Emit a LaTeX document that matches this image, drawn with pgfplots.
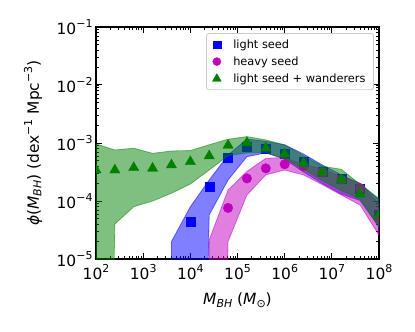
\documentclass[border=0pt]{standalone}
\usepackage{pgfplots}
\pgfplotsset{compat=1.18}
\usepackage{fontspec}
\setmainfont{DejaVu Sans}
\definecolor{mblue}{rgb}{0,0,1}
\definecolor{mmag}{rgb}{0.75,0,0.75}
\definecolor{mgreen}{rgb}{0,0.5,0}
\definecolor{legedge}{rgb}{0.8,0.8,0.8}
\newcommand{\tl}[1]{10\raisebox{6.8bp}{\fontsize{11}{11}\selectfont #1}}
\newcommand{\sps}[1]{\raisebox{6.8bp}{\fontsize{11}{11}\selectfont #1}}
\newcommand{\sbs}[1]{\raisebox{-2.6bp}{\fontsize{11}{11}\selectfont\itshape #1}}
\begin{document}
\begin{tikzpicture}
\begin{axis}[
  at={(0,0)}, anchor=south west,
  scale only axis, width=283bp, height=232bp,
  xmode=log, ymode=log,
  xmin=1e2, xmax=1e8, ymin=1e-5, ymax=1e-1,
  xtick={1e2,1e3,1e4,1e5,1e6,1e7,1e8},
  xticklabels={\tl{2},\tl{3},\tl{4},\tl{5},\tl{6},\tl{7},\tl{8}},
  ytick={1e-5,1e-4,1e-3,1e-2,1e-1},
  yticklabels={\tl{−5},\tl{−4},\tl{−3},\tl{−2},\tl{−1}},
  tick align=inside, xtick pos=both, ytick pos=both,
  major tick length=6bp, minor tick length=3.5bp,
  every major tick/.style={line width=1bp,black},
  every minor tick/.style={line width=0.7bp,black},
  axis line style={line width=1.5bp},
  tick label style={font=\fontsize{15.5}{18}\selectfont},
  xticklabel style={yshift=-2bp},
  clip marker paths=true,
  every axis x label/.style={at={(axis description cs:0.5,-0.177)},anchor=center,font=\fontsize{15.5}{18}\selectfont},
  every axis y label/.style={at={(axis description cs:-0.2226,0.5)},rotate=90,anchor=center,font=\fontsize{15.5}{18}\selectfont},
  xlabel={\textit{M}\sbs{BH} (\textit{M}\sbs{⊙})},
  ylabel={\textit{ϕ}(\textit{M}\sbs{BH}) (dex\sps{−1} Mpc\sps{−3})},
  legend style={at={(0.982,0.974)}, anchor=north east, draw=legedge, fill=white, rounded corners=2.5bp, font=\fontsize{11.4}{13}\selectfont, row sep=3bp, column sep=10bp, inner xsep=6bp, inner ysep=4bp, cells={anchor=west}, line width=0.8bp},
  legend image code/.code={\draw[mark repeat=2,mark phase=2,#1,mark size=0.85*\pgfplotmarksize] plot coordinates {(0bp,0bp) (14bp,0bp) (28bp,0bp)};},
]
% blue band
\addplot[fill=mblue, draw=mblue, opacity=0.5, line width=0.8bp, forget plot] coordinates {
(3981,2.0e-5) (1e4,7.98e-5) (25119,2.30e-4) (63096,6.21e-4) (158489,1.17e-3) (398107,1.07e-3) (1e6,9.33e-4) (2.512e6,6.46e-4) (6.31e6,4.17e-4) (1.585e7,2.82e-4) (3.981e7,2.0e-4) (1e8,1.05e-4)
(1e8,3.55e-5) (3.981e7,1.02e-4) (1.585e7,1.32e-4) (6.31e6,2.0e-4) (2.512e6,3.16e-4) (1e6,5.25e-4) (398107,6.76e-4) (158489,5.81e-4) (63096,2.30e-4) (25119,5.75e-5) (1e4,1e-20) (3981,1e-20) (3981,2.0e-5)};
\addplot[only marks, mark=square*, mark size=4.5bp, color=mblue, line width=0.3bp] coordinates {
(1e4,4.40e-5) (25119,1.77e-4) (63096,5.58e-4) (158489,8.65e-4) (398107,7.94e-4) (1e6,6.64e-4) (2.512e6,4.79e-4) (6.31e6,3.24e-4) (1.585e7,2.40e-4) (3.981e7,1.66e-4) (1e8,5.75e-5)};
\addlegendentry{light seed}
% magenta band
\addplot[fill=mmag, draw=mmag, opacity=0.5, line width=0.8bp, forget plot] coordinates {
(25119,2.14e-5) (63096,1.55e-4) (158489,3.24e-4) (398107,5.44e-4) (1e6,5.62e-4) (2.512e6,4.27e-4) (6.31e6,3.55e-4) (1.585e7,2.63e-4) (3.981e7,2.02e-4) (1e8,8.9e-5)
(1e8,2.57e-5) (3.981e7,8.51e-5) (1.585e7,1.27e-4) (6.31e6,1.91e-4) (2.512e6,2.82e-4) (1e6,3.42e-4) (398107,2.82e-4) (158489,1.27e-4) (63096,2.0e-5) (25119,1e-20) (25119,2.14e-5)};
\addplot[only marks, mark=*, mark size=4.8bp, color=mmag, line width=0.3bp] coordinates {
(63096,7.59e-5) (158489,2.45e-4) (398107,3.66e-4) (1e6,4.30e-4) (2.512e6,3.98e-4) (6.31e6,3.16e-4) (1.585e7,2.34e-4) (3.981e7,1.66e-4) (1e8,5.0e-5)};
\addlegendentry{heavy seed}
% green band
\addplot[fill=mgreen, draw=mgreen, opacity=0.5, line width=0.8bp, forget plot] coordinates {
(100,9.62e-4) (251.2,7.59e-4) (631,8.13e-4) (1585,6.64e-4) (3981,7.28e-4) (1e4,7.41e-4) (25119,9.33e-4) (63096,1.16e-3) (158489,1.29e-3) (398107,1.13e-3) (1e6,9.25e-4) (2.512e6,6.03e-4) (6.31e6,3.98e-4) (1.585e7,3.52e-4) (3.981e7,1.95e-4) (1e8,1.10e-4)
(1e8,3.55e-5) (3.981e7,1.07e-4) (1.585e7,1.51e-4) (6.31e6,2.24e-4) (2.512e6,3.55e-4) (1e6,5.37e-4) (398107,6.92e-4) (158489,6.76e-4) (63096,6.04e-4) (25119,3.42e-4) (1e4,1.96e-4) (3981,1.36e-4) (1585,1.0e-4) (631,7.98e-5) (251.2,4.01e-5) (100,1e-20) (100,9.62e-4)};
\addplot[only marks, mark=triangle*, mark size=6bp, color=mgreen, line width=0.3bp] coordinates {
(100,3.42e-4) (251.2,3.42e-4) (631,3.75e-4) (1585,3.66e-4) (3981,4.18e-4) (1e4,4.76e-4) (25119,5.97e-4) (63096,9.12e-4) (158489,1.01e-3) (398107,8.13e-4) (1e6,6.46e-4) (2.512e6,4.52e-4) (6.31e6,3.16e-4) (1.585e7,2.32e-4) (3.981e7,1.32e-4) (1e8,5.75e-5)};
\addlegendentry{light seed + wanderers}
\end{axis}
\pgfresetboundingbox
\path[use as bounding box] (-96bp,-73bp) rectangle (319bp,259bp);
\end{tikzpicture}
\end{document}
